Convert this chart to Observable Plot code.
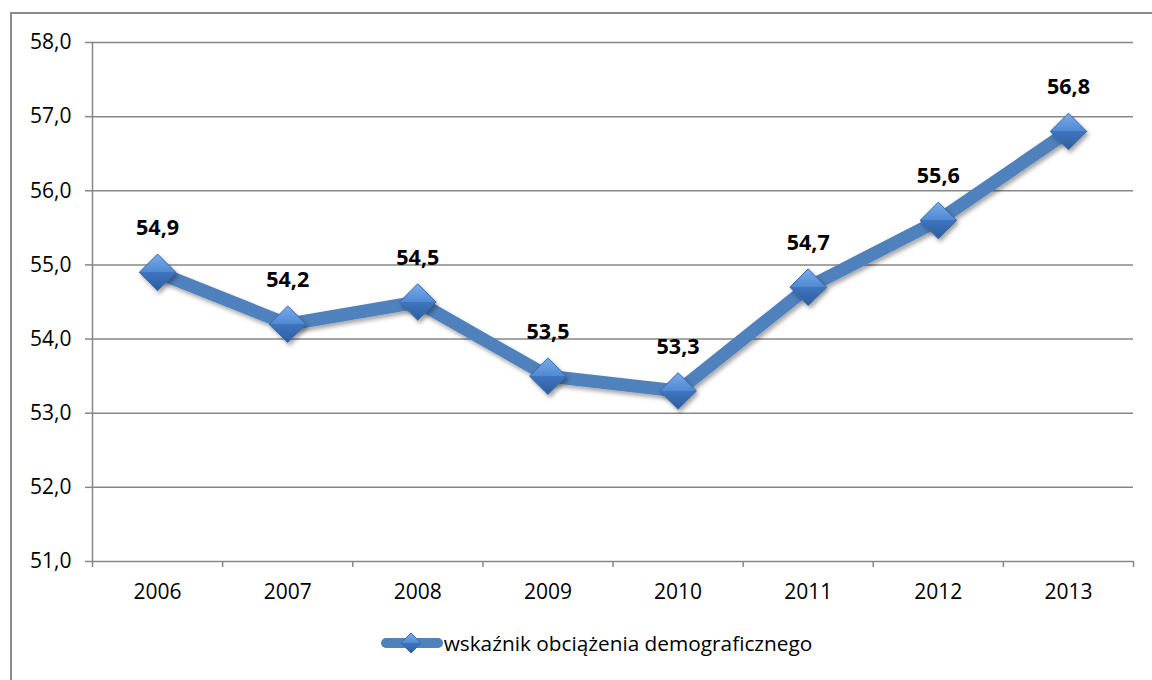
<!DOCTYPE html>
<html>
<head>
<meta charset="utf-8">
<script src="https://cdn.jsdelivr.net/npm/d3@7"></script>
<script src="https://cdn.jsdelivr.net/npm/@observablehq/plot@0.6"></script>
<style>
  body { margin: 0; background: #fff; }
  #wrap { position: relative; width: 1152px; height: 680px; overflow: hidden; font-family: "Open Sans", sans-serif; }
  #frame { position: absolute; left: 10px; top: 12px; width: 1300px; height: 900px; border: 2px solid #8a8a8a; box-sizing: border-box; }
  #chart { position: absolute; left: 0; top: 0; }
  #chart svg g[aria-label^="x-axis"] text, #chart svg g[aria-label^="y-axis"] text { font-size: 21px; }
  #legend { position: absolute; left: 20px; width: 1152px; top: 628px; display: flex; justify-content: center; align-items: center; font-size: 20.8px; color: #000; }
  #legend svg { margin-right: 0px; }
</style>
</head>
<body>
<div id="wrap">
  <div id="frame"></div>
  <div id="chart"></div>
  <div id="legend"></div>
</div>
<script>
const years = [2006, 2007, 2008, 2009, 2010, 2011, 2012, 2013];
const values = [54.9, 54.2, 54.5, 53.5, 53.3, 54.7, 55.6, 56.8];
const yTicks = [51, 52, 53, 54, 55, 56, 57, 58];
const seriesName = "wskaźnik obciążenia demograficznego";

const data = years.map((year, i) => ({year, value: values[i]}));
const fmt = d => d.toFixed(1).replace(".", ",");
const xDomain = [d3.min(years) - 0.5, d3.max(years) + 0.5];
const boundaries = d3.range(xDomain[0], xDomain[1] + 0.01, 1);

const chart = Plot.plot({
  width: 1152,
  height: 600,
  marginTop: 42,
  marginBottom: 39,
  marginLeft: 92,
  marginRight: 19,
  style: {fontFamily: "Open Sans", background: "transparent", overflow: "visible"},
  x: {domain: xDomain},
  y: {domain: [d3.min(yTicks), d3.max(yTicks)]},
  marks: [
    Plot.gridY(yTicks, {stroke: "#878787", strokeOpacity: 1, strokeWidth: 1.5}),
    Plot.frame({anchor: "left", stroke: "#878787", strokeWidth: 1.5}),
    Plot.axisY(yTicks, {tickSize: 7, tickPadding: 14, stroke: "#878787", strokeWidth: 1.5, fill: "#000", tickFormat: fmt, label: null}),
    Plot.axisX(boundaries, {tickSize: 6, stroke: "#878787", strokeWidth: 1.5, tickFormat: () => "", label: null}),
    Plot.axisX(years, {tickSize: 0, tickPadding: 23, fill: "#000", tickFormat: d => String(d), label: null}),
    Plot.line(data, {x: "year", y: "value", stroke: "#4f81bd", strokeWidth: 13, strokeLinejoin: "round", className: "serie"}),
    Plot.dot(data, {x: "year", y: "value", symbol: "diamond2", r: 16.5, fill: "url(#dgrad)", stroke: "#3a68a6", strokeWidth: 1, className: "diam"}),
    Plot.text(data, {x: "year", y: "value", text: d => fmt(d.value), dy: -44, fontWeight: "bold", fontSize: 21.5, fill: "#000"})
  ]
});

// gradient + shadow defs
const ns = "http://www.w3.org/2000/svg";
const defs = document.createElementNS(ns, "defs");
defs.innerHTML = `
  <linearGradient id="dgrad" x1="0" y1="0" x2="0" y2="1">
    <stop offset="0" stop-color="#79acec"/>
    <stop offset="0.5" stop-color="#4f88d2"/>
    <stop offset="0.5" stop-color="#3f75bf"/>
    <stop offset="1" stop-color="#2d5d9f"/>
  </linearGradient>
  <filter id="shadow" x="-30%" y="-30%" width="160%" height="160%">
    <feDropShadow dx="2" dy="3" stdDeviation="2" flood-color="#000" flood-opacity="0.35"/>
  </filter>`;
chart.insertBefore(defs, chart.firstChild);
chart.querySelectorAll(".diam path, .diam use").forEach(p => p.setAttribute("filter", "url(#shadow)"));
chart.querySelectorAll(".serie path").forEach(p => p.setAttribute("filter", "url(#shadow)"));
document.getElementById("chart").appendChild(chart);

// legend
const legend = document.getElementById("legend");
legend.innerHTML = `
  <svg width="64" height="30" viewBox="0 0 64 30">
    <defs>
      <linearGradient id="lgrad" x1="0" y1="0" x2="0" y2="1">
        <stop offset="0" stop-color="#79acec"/>
        <stop offset="0.5" stop-color="#4f88d2"/>
        <stop offset="0.5" stop-color="#3f75bf"/>
        <stop offset="1" stop-color="#2d5d9f"/>
      </linearGradient>
    </defs>
    <line x1="6" y1="15" x2="58" y2="15" stroke="#4f81bd" stroke-width="10" stroke-linecap="round"/>
    <path d="M31 5 L41 15 L31 25 L21 15 Z" fill="url(#lgrad)" stroke="#3a68a6" stroke-width="1"/>
  </svg>
  <span>${seriesName}</span>`;
</script>
</body>
</html>
